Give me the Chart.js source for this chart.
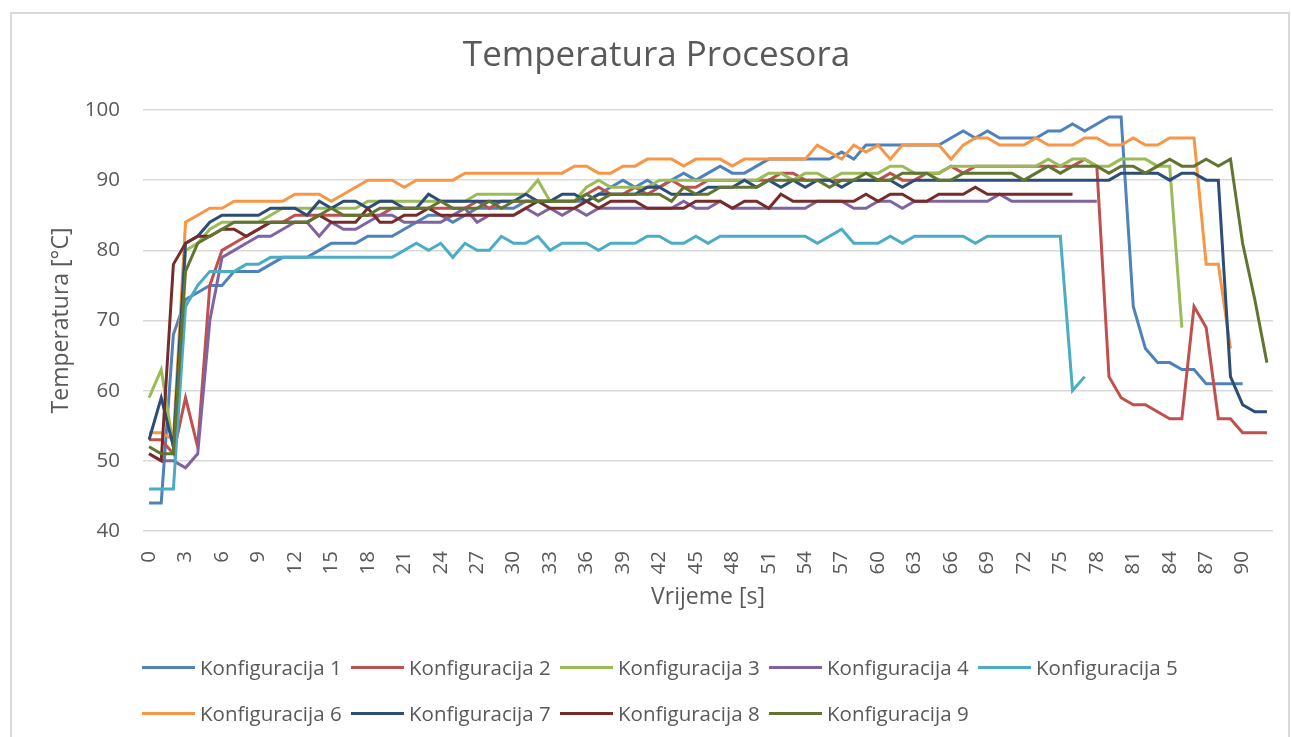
<!DOCTYPE html>
<html>
<head>
<meta charset="utf-8">
<script src="https://cdn.jsdelivr.net/npm/chart.js@4.4.1/dist/chart.umd.min.js"></script>
<style>
html,body{margin:0;padding:0;background:#fff;}
#wrap{position:relative;width:1291px;height:737px;overflow:hidden;font-family:"Open Sans",sans-serif;background:#fff;}
#frame{position:absolute;left:10px;top:12px;width:1280px;height:780px;border:2px solid #d9d9d9;box-sizing:border-box;}
canvas{position:absolute;left:0;top:0;}
#legend{position:absolute;left:142px;top:644px;width:1050px;display:flex;flex-wrap:wrap;}
.item{width:209px;height:46px;display:flex;align-items:center;}
.swatch{width:53px;height:3px;margin-right:5px;flex:none;}
.label{font-size:20.5px;color:#595959;white-space:nowrap;line-height:1;}
</style>
</head>
<body>
<div id="wrap">
  <div id="frame"></div>
  <canvas id="c" width="1291" height="737"></canvas>
  <div id="legend"></div>
</div>
<script>
const categories = ["0","1","2","3","4","5","6","7","8","9","10","11","12","13","14","15","16","17","18","19","20","21","22","23","24","25","26","27","28","29","30","31","32","33","34","35","36","37","38","39","40","41","42","43","44","45","46","47","48","49","50","51","52","53","54","55","56","57","58","59","60","61","62","63","64","65","66","67","68","69","70","71","72","73","74","75","76","77","78","79","80","81","82","83","84","85","86","87","88","89","90","91","92"];

const seriesNames = ["Konfiguracija 1","Konfiguracija 2","Konfiguracija 3","Konfiguracija 4","Konfiguracija 5","Konfiguracija 6","Konfiguracija 7","Konfiguracija 8","Konfiguracija 9"];

const konf1 = [44,44,68,73,74,75,75,77,77,77, 78,79,79,79,80,81,81,81,82,82, 82,83,84,85,85,84,85,86,86,86, 86,87,87,87,87,87,87,88,89,90, 89,90,89,90,91,90,91,92,91,91, 92,93,93,93,93,93,93,94,93,95, 95,95,95,95,95,95,96,97,96,97, 96,96,96,96,97,97,98,97,98,99, 99,72,66,64,64,63,63,61,61,61, 61];
const konf2 = [53,53,51,59,52,75,80,81,82,83, 84,84,85,85,85,85,85,85,85,85, 86,86,86,86,86,86,86,87,86,87, 87,87,87,87,87,87,88,89,88,88, 89,88,89,90,89,89,90,90,90,90, 90,90,91,91,90,90,90,90,90,90, 90,91,90,90,91,91,92,91,92,92, 92,92,92,92,92,92,92,93,92,62, 59,58,58,57,56,56,72,69,56,56, 54,54,54];
const konf3 = [59,63,52,80,81,83,84,84,84,84, 85,86,86,86,86,86,86,86,87,87, 87,87,87,87,87,87,87,88,88,88, 88,88,90,87,87,87,89,90,89,89, 89,89,90,90,90,90,90,90,90,90, 90,91,91,90,91,91,90,91,91,91, 91,92,92,91,91,91,92,92,92,92, 92,92,92,92,93,92,93,93,92,92, 93,93,93,92,92,69];
const konf4 = [51,50,50,49,51,70,79,80,81,82, 82,83,84,84,82,84,83,83,84,85, 85,84,84,84,84,85,86,84,85,85, 85,86,85,86,85,86,85,86,86,86, 86,86,86,86,87,86,86,87,86,86, 86,86,86,86,86,87,87,87,86,86, 87,87,86,87,87,87,87,87,87,87, 88,87,87,87,87,87,87,87,87];
const konf5 = [46,46,46,72,75,77,77,77,78,78, 79,79,79,79,79,79,79,79,79,79, 79,80,81,80,81,79,81,80,80,82, 81,81,82,80,81,81,81,80,81,81, 81,82,82,81,81,82,81,82,82,82, 82,82,82,82,82,81,82,83,81,81, 81,82,81,82,82,82,82,82,81,82, 82,82,82,82,82,82,60,62];
const konf6 = [54,54,53,84,85,86,86,87,87,87, 87,87,88,88,88,87,88,89,90,90, 90,89,90,90,90,90,91,91,91,91, 91,91,91,91,91,92,92,91,91,92, 92,93,93,93,92,93,93,93,92,93, 93,93,93,93,93,95,94,93,95,94, 95,93,95,95,95,95,93,95,96,96, 95,95,95,96,95,95,95,96,96,95, 95,96,95,95,96,96,96,78,78,66];
const konf7 = [53,59,52,81,82,84,85,85,85,85, 86,86,86,85,87,86,87,87,86,87, 87,86,86,88,87,87,87,87,87,87, 87,88,87,87,88,88,87,88,88,88, 88,89,89,88,88,88,89,89,89,90, 89,90,89,90,89,90,90,89,90,90, 90,90,89,90,90,90,90,90,90,90, 90,90,90,90,90,90,90,90,90,90, 91,91,91,91,90,91,91,90,90,62, 58,57,57];
const konf8 = [51,50,78,81,82,82,83,83,82,83, 84,84,84,84,85,84,84,84,86,84, 84,85,85,86,85,85,85,85,85,85, 85,86,87,86,86,86,87,86,87,87, 87,86,86,86,86,87,87,87,86,87, 87,86,88,87,87,87,87,87,87,88, 87,88,88,87,87,88,88,88,89,88, 88,88,88,88,88,88,88];
const konf9 = [52,51,51,77,81,82,83,84,84,84, 84,84,84,84,85,86,85,85,85,86, 86,86,86,86,87,86,86,86,87,86, 87,87,87,87,87,87,88,87,88,88, 88,88,88,87,89,88,88,89,89,89, 89,90,90,90,90,90,89,90,90,91, 90,90,91,91,91,90,90,91,91,91, 91,91,90,91,92,91,92,92,92,91, 92,92,91,92,93,92,92,93,92,93, 81,73,64];

const seriesValues = [konf1,konf2,konf3,konf4,konf5,konf6,konf7,konf8,konf9];
const seriesColors = ["#4F81BD","#C0504D","#9BBB59","#8064A2","#4BACC6","#F79646","#2C4D75","#772C2A","#5F7530"];

const FONT = "'Open Sans', sans-serif";
const TXT = "#595959";
Chart.defaults.font.family = FONT;
Chart.defaults.color = TXT;

const datasets = seriesValues.map((vals, i) => ({
  label: seriesNames[i],
  data: vals,
  borderColor: seriesColors[i],
  backgroundColor: seriesColors[i],
  borderWidth: 3,
  pointRadius: 0,
  pointHoverRadius: 0,
  tension: 0,
  fill: false,
  order: seriesValues.length - i
}));

const chart = new Chart(document.getElementById('c'), {
  type: 'line',
  data: { labels: categories, datasets },
  options: {
    responsive: false,
    animation: false,
    events: [],
    layout: { padding: { left: 40, right: 18, top: 0, bottom: 116 } },
    plugins: {
      legend: { display: false },
      tooltip: { enabled: false },
      title: {
        display: true,
        text: 'Temperatura Procesora',
        color: TXT,
        font: { family: FONT, size: 35, weight: 'normal' },
        padding: { top: 35, bottom: 33 }
      }
    },
    scales: {
      x: {
        type: 'category',
        offset: true,
        grid: { display: false, drawTicks: false },
        border: { display: false },
        ticks: {
          autoSkip: false,
          minRotation: 90,
          maxRotation: 90,
          padding: 20,
          color: TXT,
          font: { family: FONT, size: 20.5 },
          callback: function (value, index) { return index % 3 === 0 ? this.getLabelForValue(value) : ''; }
        },
        title: {
          display: true,
          text: 'Vrijeme [s]',
          color: TXT,
          font: { family: FONT, size: 23 },
          padding: { top: 0, bottom: 10 }
        },
        afterFit: (s) => { s.height = 90; s.paddingLeft = 0; s.paddingRight = 0; }
      },
      y: {
        min: 40,
        max: 100,
        grid: { color: '#d9d9d9', lineWidth: 1.5, drawTicks: false },
        border: { display: false },
        ticks: {
          stepSize: 10,
          padding: 23,
          color: TXT,
          font: { family: FONT, size: 20.5 }
        },
        title: {
          display: true,
          text: 'Temperatura [°C]',
          color: TXT,
          font: { family: FONT, size: 23 },
          padding: { top: 8, bottom: 0 }
        },
        afterFit: (s) => { s.width = 103; }
      }
    }
  }
});

// HTML legend built from the chart's datasets
const legendEl = document.getElementById('legend');
chart.data.datasets.forEach(ds => {
  const item = document.createElement('div');
  item.className = 'item';
  const sw = document.createElement('div');
  sw.className = 'swatch';
  sw.style.background = ds.borderColor;
  const lb = document.createElement('span');
  lb.className = 'label';
  lb.textContent = ds.label;
  item.appendChild(sw);
  item.appendChild(lb);
  legendEl.appendChild(item);
});
</script>
</body>
</html>
